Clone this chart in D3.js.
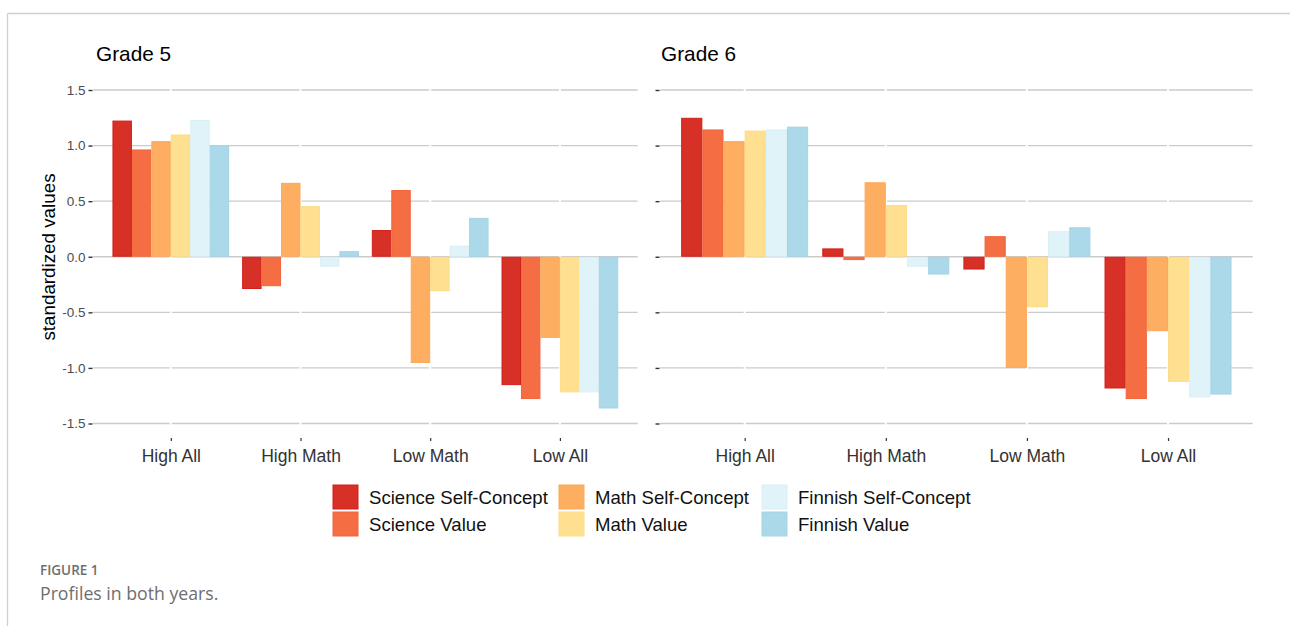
<!DOCTYPE html>
<html>
<head>
<meta charset="utf-8">
<script src="https://cdn.jsdelivr.net/npm/d3@7"></script>
<style>
  html, body { margin: 0; padding: 0; background: #fff; }
  svg { display: block; }
</style>
</head>
<body>
<svg id="chart" width="1290" height="626"></svg>
<script>
// ---------- DATA ----------
const categories = ["High All", "High Math", "Low Math", "Low All"];
const seriesNames = ["Science Self-Concept", "Science Value", "Math Self-Concept",
                     "Math Value", "Finnish Self-Concept", "Finnish Value"];
const seriesColors = ["#d73027", "#f46d43", "#fdae61", "#fee090", "#e0f3f8", "#abd9e9"];
const seriesStrokes = ["#d21f1a", "#f2653a", "#fca85a", "#fddc88", "#d9eff6", "#a3d4e6"];
const yTicks = [-1.5, -1.0, -0.5, 0.0, 0.5, 1.0, 1.5];
const panelTitles = ["Grade 5", "Grade 6"];

// Grade 5 (values per category: High All, High Math, Low Math, Low All)
const g5ScienceSelfConcept = [1.225, -0.29, 0.24, -1.155];
const g5ScienceValue       = [0.965, -0.265, 0.60, -1.28];
const g5MathSelfConcept    = [1.04, 0.665, -0.955, -0.73];
const g5MathValue          = [1.10, 0.455, -0.31, -1.22];
const g5FinnishSelfConcept = [1.23, -0.09, 0.10, -1.22];
const g5FinnishValue       = [1.00, 0.05, 0.35, -1.365];

// Grade 6
const g6ScienceSelfConcept = [1.25, 0.075, -0.115, -1.185];
const g6ScienceValue       = [1.145, -0.03, 0.185, -1.28];
const g6MathSelfConcept    = [1.04, 0.67, -1.00, -0.67];
const g6MathValue          = [1.135, 0.465, -0.455, -1.125];
const g6FinnishSelfConcept = [1.145, -0.09, 0.23, -1.265];
const g6FinnishValue       = [1.17, -0.16, 0.265, -1.24];

const grade5 = [g5ScienceSelfConcept, g5ScienceValue, g5MathSelfConcept, g5MathValue, g5FinnishSelfConcept, g5FinnishValue];
const grade6 = [g6ScienceSelfConcept, g6ScienceValue, g6MathSelfConcept, g6MathValue, g6FinnishSelfConcept, g6FinnishValue];

// ---------- LAYOUT ----------
const svg = d3.select("#chart");
svg.append("rect").attr("width", 1290).attr("height", 626).attr("fill", "#fff");

// outer frame (top + left)
svg.append("line").attr("x1", 7.5).attr("x2", 1290).attr("y1", 13.5).attr("y2", 13.5)
  .attr("stroke", "#cfcfcf").attr("stroke-width", 1.3);
svg.append("line").attr("x1", 7.5).attr("x2", 7.5).attr("y1", 13.5).attr("y2", 626)
  .attr("stroke", "#cfcfcf").attr("stroke-width", 1.3);

const FONT = "'Liberation Sans', Arial, sans-serif";

const y = d3.scaleLinear().domain([-1.5, 1.5]).range([423.5, 90]);

const panels = [
  { title: panelTitles[0], data: grade5, x0: 93, x1: 637.7, titleX: 96, labels: true },
  { title: panelTitles[1], data: grade6, x0: 660, x1: 1252.7, titleX: 661, labels: false }
];

panels.forEach(p => {
  const g = svg.append("g");
  const x = d3.scalePoint().domain(categories).range([p.x0, p.x1]).padding(0.6);
  const step = x.step();
  const xs = d3.scaleBand().domain(seriesNames).range([-0.45 * step, 0.45 * step]).paddingInner(0);

  // horizontal gridlines
  g.append("g").selectAll("line").data(yTicks).join("line")
    .attr("x1", p.x0).attr("x2", p.x1)
    .attr("y1", d => y(d)).attr("y2", d => y(d))
    .attr("stroke", "#cbcbcb").attr("stroke-width", 1.3);

  // white vertical breaks in gridlines at category positions
  g.append("g").selectAll("line").data(categories).join("line")
    .attr("x1", d => x(d)).attr("x2", d => x(d))
    .attr("y1", y(1.5) - 3).attr("y2", y(-1.5) + 3)
    .attr("stroke", "#fff").attr("stroke-width", 2);

  // bars
  p.data.forEach((vals, si) => {
    g.append("g").selectAll("rect").data(vals).join("rect")
      .attr("x", (d, ci) => x(categories[ci]) + xs(seriesNames[si]) + 0.5)
      .attr("width", xs.bandwidth() - 1)
      .attr("y", d => Math.min(y(d), y(0)) + 0.5)
      .attr("height", d => Math.max(0.5, Math.abs(y(d) - y(0)) - 1))
      .attr("fill", seriesColors[si])
      .attr("stroke", seriesStrokes[si])
      .attr("stroke-width", 1);
  });

  // y axis
  const yAxis = d3.axisLeft(y).tickValues(yTicks).tickSize(4).tickPadding(3)
    .tickFormat(d => p.labels ? d3.format(".1f")(d).replace("\u2212", "-") : "");
  const ya = g.append("g").attr("transform", `translate(${p.x0 - 0.5},0)`).call(yAxis);
  ya.select(".domain").remove();
  ya.selectAll(".tick line").attr("stroke", "#333").attr("stroke-width", 1.4);
  ya.selectAll(".tick text").attr("fill", "#4d4d4d").style("font-family", FONT).style("font-size", "13.5px");

  // x axis
  const xAxis = d3.axisBottom(x).tickSize(3).tickPadding(8);
  const xa = g.append("g").attr("transform", `translate(0,438)`).call(xAxis);
  xa.select(".domain").remove();
  xa.selectAll(".tick line").attr("stroke", "#333").attr("stroke-width", 1.2);
  xa.selectAll(".tick text").attr("fill", "#333").style("font-family", FONT).style("font-size", "17.5px")
    .attr("y", 24).attr("dy", 0);

  // title
  g.append("text").attr("x", p.titleX).attr("y", 61).text(p.title)
    .attr("fill", "#000").style("font-family", FONT).style("font-size", "20.8px");
});

// y axis title
svg.append("text")
  .attr("transform", "translate(55,257) rotate(-90)")
  .attr("text-anchor", "middle")
  .text("standardized values")
  .attr("fill", "#000").style("font-family", FONT).style("font-size", "18.8px");

// legend
const legendCols = [333, 559, 762];
const legendRows = [485, 512];
const leg = svg.append("g");
seriesNames.forEach((name, i) => {
  const col = Math.floor(i / 2), row = i % 2;
  leg.append("rect")
    .attr("x", legendCols[col]).attr("y", legendRows[row])
    .attr("width", 25).attr("height", 24)
    .attr("fill", seriesColors[i]).attr("stroke", seriesStrokes[i]).attr("stroke-width", 1);
  leg.append("text")
    .attr("x", legendCols[col] + 36).attr("y", legendRows[row] + 19)
    .text(name).attr("fill", "#111")
    .style("font-family", FONT).style("font-size", "18.6px");
});

// caption
svg.append("text").attr("x", 40).attr("y", 575).text("FIGURE 1")
  .attr("fill", "#6e6e6e").style("font-family", "'Open Sans', Lato, sans-serif")
  .style("font-size", "13.5px").style("font-weight", "600");
svg.append("text").attr("x", 40).attr("y", 600).text("Profiles in both years.")
  .attr("fill", "#6e6e6e").style("font-family", "'Open Sans', Lato, sans-serif")
  .style("font-size", "17.7px");
</script>
</body>
</html>
